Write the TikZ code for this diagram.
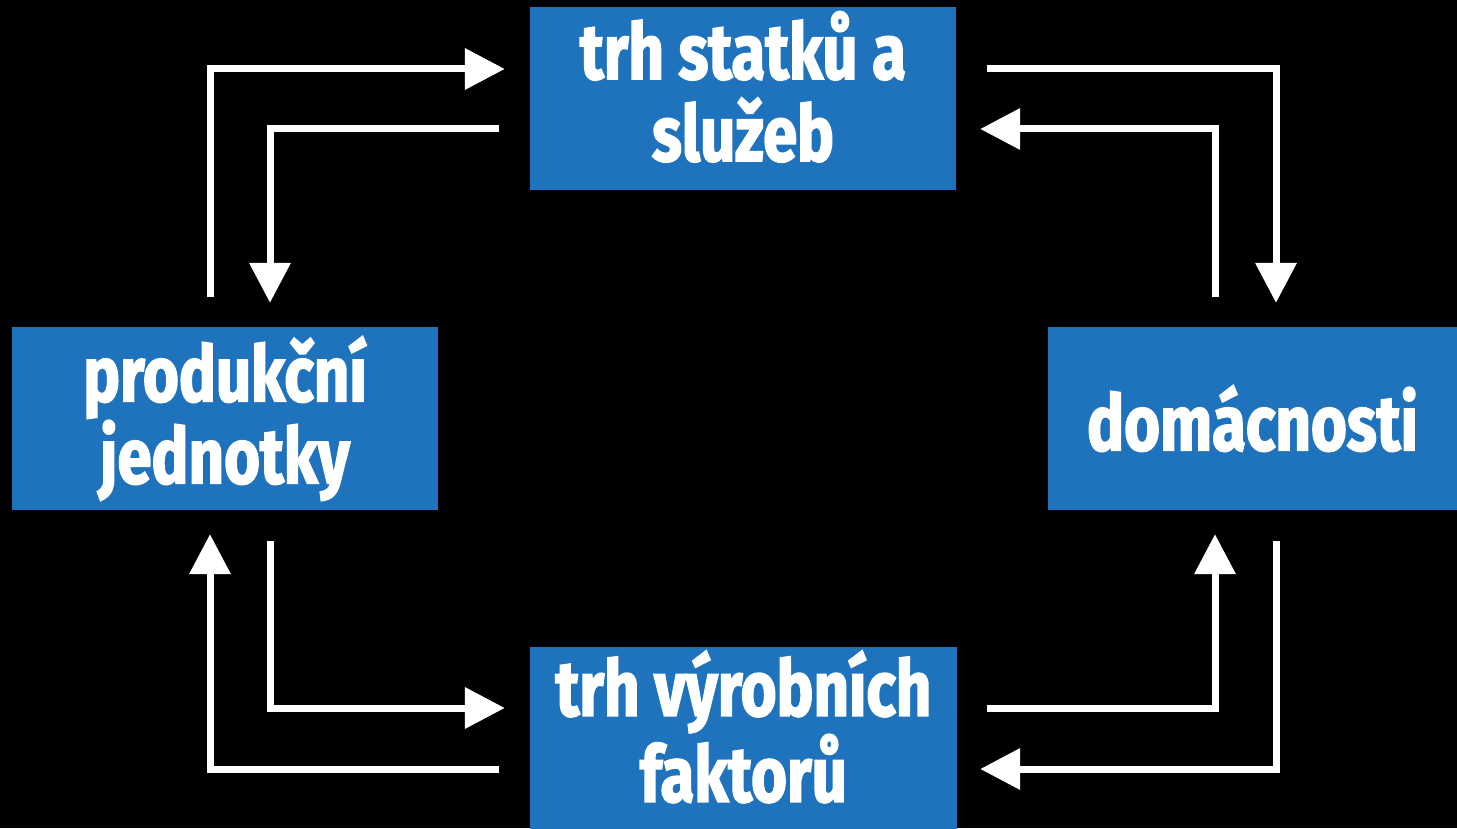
\documentclass[tikz,border=0pt]{standalone}
\usepackage{fontspec}
\newfontfamily\boxfont{Fira Sans}[FakeStretch=0.79, BoldFeatures={FakeBold=2}]
\usepackage{tikz}
\usetikzlibrary{arrows.meta}
\definecolor{boxblue}{RGB}{31,115,189}

\begin{document}
\begin{tikzpicture}[x=1pt, y=1pt,
    market/.style={fill=boxblue, text=white, align=center, inner sep=0pt,
        minimum width=426pt, minimum height=183pt,
        font=\boxfont\bfseries\fontsize{78}{82}\selectfont},
    flow/.style={draw=white, line width=7pt, -{Triangle[length=40pt, width=40pt]}}]
    \fill[black] (0,0) rectangle (1457,828);
    \useasboundingbox (0,0) rectangle (1457,828);

    \node[market] (goods) at (743,729.5) {trh statků a\\služeb\strut};
    \node[market] (firms) at (225,409.5) {produkční\\jednotky};
    \node[market, minimum width=409pt] (homes) at (1252.5,409.5) {domácnosti};
    \node[market, minimum width=427pt] (factors) at (743.5,89.5) {trh výrobních\\faktorů\strut};

    % top left
    \draw[flow] ([shift={(-15,30)}]firms.north) |- ([shift={(-25,29.5)}]goods.west);
    \draw[flow] ([shift={(-31,-30.5)}]goods.west) -| ([shift={(45,24)}]firms.north);
    % top right
    \draw[flow] ([shift={(31,29.5)}]goods.east) -| ([shift={(23.5,24)}]homes.north);
    \draw[flow] ([shift={(-37.5,30)}]homes.north) |- ([shift={(24,-30.5)}]goods.east);
    % bottom left
    \draw[flow] ([shift={(45,-31)}]firms.south) |- ([shift={(-25,30.5)}]factors.west);
    \draw[flow] ([shift={(-31,-30.5)}]factors.west) -| ([shift={(-15,-24)}]firms.south);
    % bottom right
    \draw[flow] ([shift={(30,30.5)}]factors.east) -| ([shift={(-37.5,-24)}]homes.south);
    \draw[flow] ([shift={(23.5,-31)}]homes.south) |- ([shift={(23,-30.5)}]factors.east);
\end{tikzpicture}
\end{document}
